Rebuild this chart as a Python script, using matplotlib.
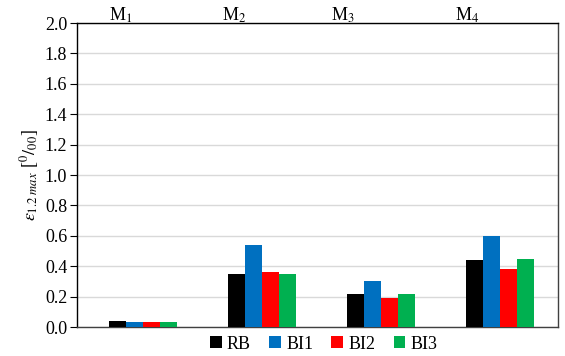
import matplotlib
matplotlib.use('Agg')
import matplotlib.pyplot as plt
import numpy as np

plt.rcParams['font.family'] = 'Liberation Serif'
plt.rcParams['mathtext.fontset'] = 'stix'

groups = ['M$_1$', 'M$_2$', 'M$_3$', 'M$_4$']
series = ['RB', 'BI1', 'BI2', 'BI3']
colors = ['#000000', '#0070C0', '#FF0000', '#00B050']
RB = [0.04, 0.35, 0.22, 0.44]
BI1 = [0.03, 0.54, 0.30, 0.60]
BI2 = [0.03, 0.36, 0.19, 0.38]
BI3 = [0.03, 0.35, 0.22, 0.45]
values = [RB, BI1, BI2, BI3]
label_shift = [-0.19, -0.235, -0.32, -0.27]

fig = plt.figure(figsize=(5.65, 3.56), dpi=100)
ax = fig.add_axes([77/565, 1-327/356, 481/565, 304/356])

x = np.arange(len(groups))
w = 0.143
for i in range(4):
    ax.bar(x + (i - 1.5) * w, values[i], w, color=colors[i], label=series[i], zorder=3)

ax.set_ylim(0, 2.0)
ax.set_xlim(-0.555, 3.49)
ax.set_yticks(np.arange(0, 2.01, 0.2))
ax.set_yticklabels(['%.1f' % v for v in np.arange(0, 2.01, 0.2)], fontsize=13)
ax.set_xticks([])
ax.yaxis.grid(True, color='#D9D9D9', linewidth=1, zorder=0)
ax.tick_params(axis='y', direction='out', length=5, width=0.8, pad=2)
for s in ax.spines.values():
    s.set_linewidth(1)
ax.spines['right'].set_color('#404040')
ax.spines['bottom'].set_color('#404040')

for i in range(4):
    ax.text(x[i] + label_shift[i], 2.015, groups[i], ha='center', va='baseline', fontsize=13)

ax.set_ylabel(r'$\varepsilon_{\mathit{1.2\ max}}$ [$^0/_{00}$]', fontsize=13, labelpad=3)

ax.legend(loc='upper center', bbox_to_anchor=(0.513, -0.005), ncol=4, frameon=False,
          fontsize=13, handlelength=0.65, handleheight=0.65, handletextpad=0.3,
          columnspacing=1.0, borderaxespad=0)

plt.savefig('out.png', dpi=100)
